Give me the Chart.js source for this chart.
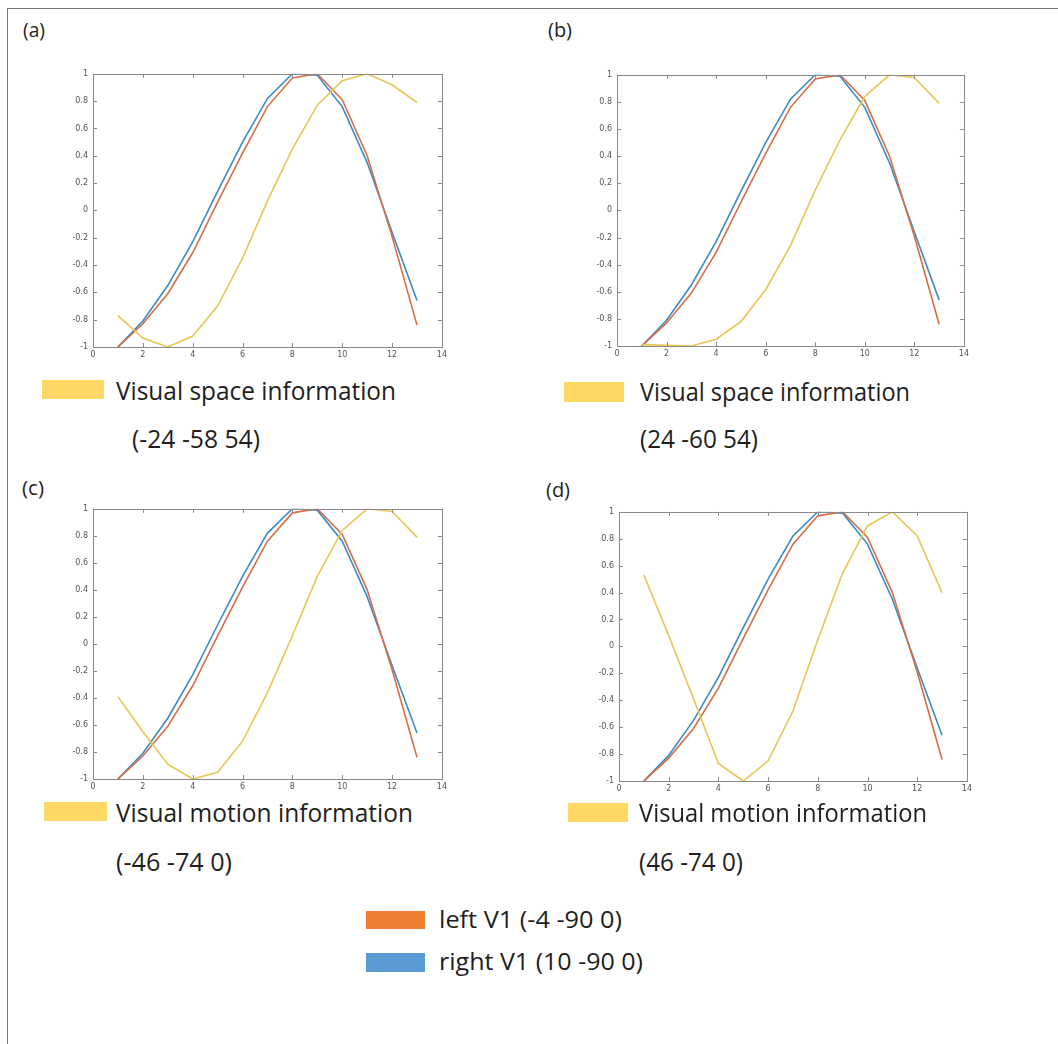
<!DOCTYPE html>
<html>
<head>
<meta charset="utf-8">
<script src="https://cdn.jsdelivr.net/npm/chart.js@4.4.1/dist/chart.umd.min.js"></script>
<style>
  html, body { margin: 0; padding: 0; background: #fff; }
  #page { position: relative; width: 1058px; height: 1044px; overflow: hidden; }
  .frameTop { position: absolute; left: 7px; top: 8px; width: 1051px; height: 1px; background: #777; }
  .frameLeft { position: absolute; left: 7px; top: 8px; width: 1px; height: 1036px; background: #777; }
  canvas { position: absolute; }
  .txt { position: absolute; white-space: nowrap; font-family: "Open Sans", Lato, sans-serif; color: #1e1e1e; transform-origin: 0 0; }
  .sw { position: absolute; }
</style>
</head>
<body>
<div id="page">
  <div class="frameTop"></div>
  <div class="frameLeft"></div>
</div>
<script>
// x positions (time points) shared by every panel
const xValues = [1, 2, 3, 4, 5, 6, 7, 8, 9, 10, 11, 12, 13];

// V1 curves, same in all four panels
const leftV1  = [-1, -0.83, -0.61, -0.31, 0.06, 0.42, 0.76, 0.97, 1.0, 0.81, 0.40, -0.19, -0.84];
const rightV1 = [-1, -0.81, -0.55, -0.23, 0.14, 0.50, 0.82, 1.0, 0.99, 0.76, 0.35, -0.16, -0.66];

// yellow curve of each panel
const spaceLeft   = [-0.77, -0.935, -1.0, -0.92, -0.70, -0.35, 0.07, 0.45, 0.77, 0.95, 1.0, 0.92, 0.79];
const spaceRight  = [-0.99, -0.995, -1.0, -0.95, -0.82, -0.585, -0.26, 0.15, 0.52, 0.84, 1.0, 0.98, 0.79];
const motionLeft  = [-0.39, -0.65, -0.89, -1.0, -0.95, -0.72, -0.36, 0.06, 0.50, 0.84, 1.0, 0.98, 0.79];
const motionRight = [0.53, 0.08, -0.39, -0.87, -1.0, -0.85, -0.48, 0.05, 0.545, 0.895, 1.0, 0.82, 0.40];

const panelLabels = ['(a)', '(b)', '(c)', '(d)'];
const legendNames = ['Visual space information', 'Visual space information', 'Visual motion information', 'Visual motion information'];
const legendCoords = ['(-24 -58 54)', '(24 -60 54)', '(-46 -74 0)', '(46 -74 0)'];
const v1Labels = ['left V1 (-4 -90 0)', 'right V1 (10 -90 0)'];

const xTicks = { min: 0, max: 14, step: 2 };
const yTicks = { min: -1, max: 1, step: 0.2 };

const COL_BLUE = '#3a8bc4';
const COL_RED = '#d96c45';
const COL_YEL = '#e6c654';

const page = document.getElementById('page');

// box with inward tick marks on all four sides, like the matlab axes
const boxPlugin = {
  id: 'boxTicks',
  afterDraw(chart) {
    const { ctx, chartArea: a, scales } = chart;
    ctx.save();
    ctx.strokeStyle = '#8a8a8a';
    ctx.lineWidth = 1;
    ctx.strokeRect(Math.round(a.left) + 0.5, Math.round(a.top) + 0.5, Math.round(a.width), Math.round(a.height));
    ctx.beginPath();
    scales.x.ticks.forEach(t => {
      const px = Math.round(scales.x.getPixelForValue(t.value)) + 0.5;
      ctx.moveTo(px, a.bottom); ctx.lineTo(px, a.bottom - 4);
      ctx.moveTo(px, a.top); ctx.lineTo(px, a.top + 4);
    });
    scales.y.ticks.forEach(t => {
      const py = Math.round(scales.y.getPixelForValue(t.value)) + 0.5;
      ctx.moveTo(a.left, py); ctx.lineTo(a.left + 4, py);
      ctx.moveTo(a.right, py); ctx.lineTo(a.right - 4, py);
    });
    ctx.stroke();
    ctx.restore();
  }
};

function makePanel(plot, yellow) {
  const yW = 30, xH = 16, padT = 4, padR = 8;
  const canvas = document.createElement('canvas');
  const w = yW + plot.w + padR, h = padT + plot.h + xH;
  canvas.width = w; canvas.height = h;
  canvas.style.left = (plot.x - yW) + 'px';
  canvas.style.top = (plot.y - padT) + 'px';
  canvas.style.width = w + 'px'; canvas.style.height = h + 'px';
  page.appendChild(canvas);

  const pts = arr => xValues.map((x, i) => ({ x: x, y: arr[i] }));
  const line = (data, color, order) => ({
    data: pts(data), borderColor: color, borderWidth: 1.6,
    pointRadius: 0, tension: 0, fill: false, order: order
  });

  new Chart(canvas.getContext('2d'), {
    type: 'line',
    data: { datasets: [line(rightV1, COL_BLUE, 3), line(leftV1, COL_RED, 2), line(yellow, COL_YEL, 1)] },
    options: {
      responsive: false,
      animation: false,
      devicePixelRatio: 1,
      layout: { padding: { top: padT, right: padR, left: 0, bottom: 0 } },
      plugins: { legend: { display: false }, tooltip: { enabled: false } },
      scales: {
        x: {
          type: 'linear', min: xTicks.min, max: xTicks.max,
          grid: { display: false, drawTicks: false }, border: { display: false },
          ticks: { stepSize: xTicks.step, color: '#555', font: { size: 8, family: 'DejaVu Sans' }, padding: 3, maxRotation: 0 },
          afterFit(s) { s.height = xH; }
        },
        y: {
          min: yTicks.min, max: yTicks.max,
          grid: { display: false, drawTicks: false }, border: { display: false },
          ticks: {
            stepSize: yTicks.step, color: '#555', font: { size: 8, family: 'DejaVu Sans' }, padding: 5,
            callback: v => String(Math.round(v * 10) / 10)
          },
          afterFit(s) { s.width = yW; }
        }
      }
    },
    plugins: [boxPlugin]
  });
}

makePanel({ x: 93, y: 68, w: 349, h: 279 }, spaceLeft);
makePanel({ x: 617, y: 69, w: 347, h: 277 }, spaceRight);
makePanel({ x: 93, y: 503, w: 349, h: 276 }, motionLeft);
makePanel({ x: 619, y: 506, w: 348, h: 275 }, motionRight);

// text placed by its baseline, stretched to the width it has in the figure
function addText(str, x, baseline, size, width) {
  const d = document.createElement('div');
  d.className = 'txt';
  d.style.fontSize = size + 'px';
  d.style.left = x + 'px';
  d.style.top = '0px';
  d.textContent = str;
  const mark = document.createElement('span');
  mark.style.display = 'inline-block';
  mark.style.width = '0px';
  mark.style.height = '0px';
  d.appendChild(mark);
  page.appendChild(d);
  const pageTop = page.getBoundingClientRect().top;
  const base = mark.getBoundingClientRect().top - pageTop;
  d.style.top = (baseline - base) + 'px';
  if (width) {
    const nat = d.getBoundingClientRect().width;
    d.style.transform = 'scaleX(' + (width / nat) + ')';
  }
}

function addSwatch(x, y, w, h, color) {
  const s = document.createElement('div');
  s.className = 'sw';
  s.style.left = x + 'px'; s.style.top = y + 'px';
  s.style.width = w + 'px'; s.style.height = h + 'px';
  s.style.background = color;
  page.appendChild(s);
}

addText(panelLabels[0], 23, 37, 20, 22);
addText(panelLabels[1], 548, 37, 20, 24);
addText(panelLabels[2], 22, 495, 20, 22);
addText(panelLabels[3], 546, 497, 20, 24);

addSwatch(42, 380, 62, 19, '#fed865');
addText(legendNames[0], 116, 400, 25, 280);
addText(legendCoords[0], 132, 448, 25, 128);

addSwatch(564, 382, 60, 20, '#fed865');
addText(legendNames[1], 640, 401, 25, 270);
addText(legendCoords[1], 640, 448, 25, 118);

addSwatch(44, 802, 63, 19, '#fed865');
addText(legendNames[2], 116, 822, 25, 297);
addText(legendCoords[2], 116, 871, 25, 116);

addSwatch(568, 803, 60, 19, '#fed865');
addText(legendNames[3], 639, 822, 25, 288);
addText(legendCoords[3], 639, 871, 25, 104);

addSwatch(366, 911, 59, 18, '#ed7d31');
addText(v1Labels[0], 439, 928, 24, 183);
addSwatch(366, 953, 59, 19, '#5b9bd5');
addText(v1Labels[1], 439, 970, 24, 204);
</script>
</body>
</html>
